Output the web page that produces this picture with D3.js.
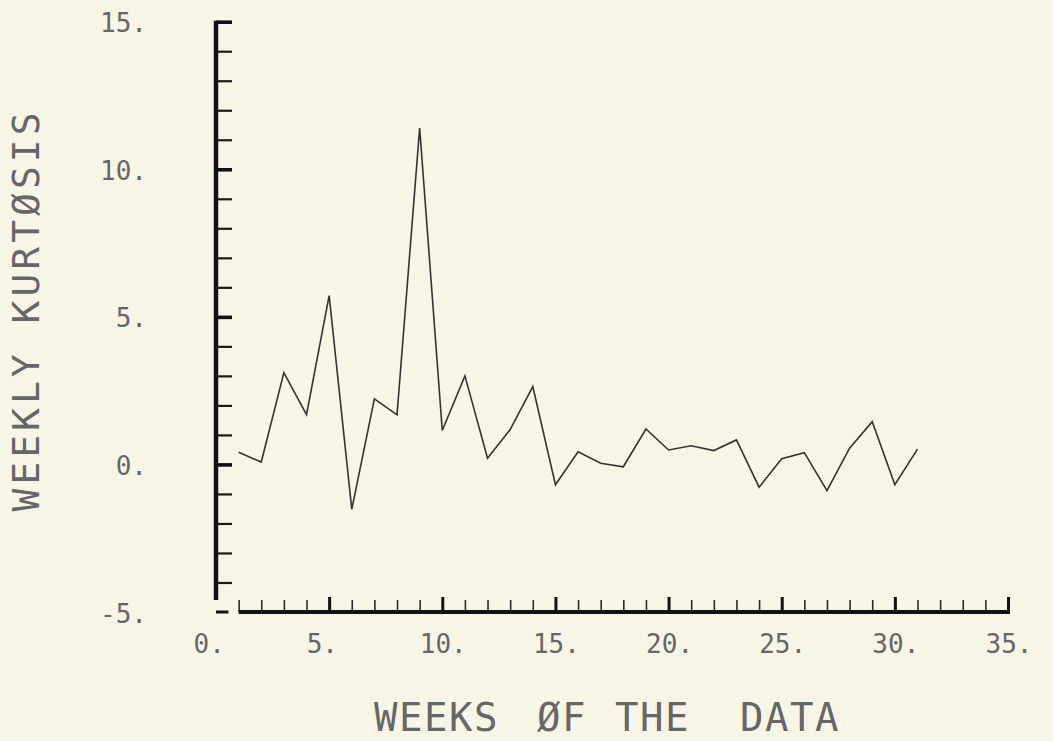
<!DOCTYPE html>
<html>
<head>
<meta charset="utf-8">
<script src="https://cdn.jsdelivr.net/npm/d3@7/dist/d3.min.js"></script>
<style>
  html, body { margin: 0; padding: 0; background: #f7f5e6; }
  svg { display: block; }
  text { font-family: "DejaVu Sans Mono", monospace; fill: #666; }
</style>
</head>
<body>
<svg id="chart" width="1053" height="741"></svg>
<script>
// ---- data ----
const weeks = [1,2,3,4,5,6,7,8,9,10,11,12,13,14,15,16,17,18,19,20,21,22,23,24,25,26,27,28,29,30,31];
const kurtosis = [0.41,0.08,3.11,1.69,5.72,-1.52,2.22,1.68,11.4,1.15,3.0,0.21,1.18,2.64,-0.69,0.43,0.04,-0.08,1.2,0.49,0.63,0.47,0.83,-0.77,0.19,0.40,-0.89,0.55,1.45,-0.69,0.52];
const xTickLabels = [0,5,10,15,20,25,30,35];
const yTickLabels = [-5,0,5,10,15];
const xMinorTicks = d3.range(1, 35);
const yMinorTicks = d3.range(-4, 15);
const xTitleWords = ["WEEKS", "ØF", "THE", "DATA"];
const yTitle = "WEEKLY KURTØSIS";

const svg = d3.select("#chart");
svg.append("rect").attr("width", 1053).attr("height", 741).attr("fill", "#f7f5e6");

const x = d3.scaleLinear().domain([0, 35]).range([216, 1008]);
const y = d3.scaleLinear().domain([-5, 15]).range([612, 21.7]);

// y axis ticks (pointing right)
const gyMinor = svg.append("g").attr("transform", `translate(${x(0)},0)`)
  .call(d3.axisRight(y).tickValues(yMinorTicks).tickSize(16).tickFormat(""));
gyMinor.select(".domain").remove();
gyMinor.selectAll("line").attr("stroke", "#1a1a1a").attr("stroke-width", 2.2);

const gyMajor = svg.append("g").attr("transform", `translate(${x(0)},0)`)
  .call(d3.axisRight(y).tickValues([0,5,10,15]).tickSize(16).tickFormat(""));
gyMajor.select(".domain").remove();
gyMajor.selectAll("line").attr("stroke", "#111").attr("stroke-width", 3.6);

// x axis ticks (pointing up)
const gxMinor = svg.append("g").attr("transform", `translate(0,${y(-5)})`)
  .call(d3.axisTop(x).tickValues(xMinorTicks).tickSize(12).tickFormat(""));
gxMinor.select(".domain").remove();
gxMinor.selectAll("line").attr("stroke", "#2a2a2a").attr("stroke-width", 1.6);

const gxMajor = svg.append("g").attr("transform", `translate(0,${y(-5)})`)
  .call(d3.axisTop(x).tickValues([5,10,15,20,25,30,35]).tickSize(15).tickFormat(""));
gxMajor.select(".domain").remove();
gxMajor.selectAll("line").attr("stroke", "#111").attr("stroke-width", 3);

// axis lines
svg.append("line").attr("x1", x(0)).attr("x2", x(0)).attr("y1", y(15) - 1).attr("y2", y(-5) - 12)
  .attr("stroke", "#111").attr("stroke-width", 4.5);
svg.append("line").attr("x1", x(1)).attr("x2", x(35) + 2).attr("y1", y(-5)).attr("y2", y(-5))
  .attr("stroke", "#111").attr("stroke-width", 4);
svg.append("line").attr("x1", x(0)).attr("x2", x(0.55)).attr("y1", y(-5)).attr("y2", y(-5))
  .attr("stroke", "#111").attr("stroke-width", 3);

// y tick labels
const gyLab = svg.append("g").attr("transform", `translate(${x(0)},0)`)
  .call(d3.axisLeft(y).tickValues(yTickLabels).tickSize(0).tickPadding(69).tickFormat(d => d + "."));
gyLab.select(".domain").remove();
gyLab.selectAll("text").attr("dy", 10).attr("font-size", 26)
  .attr("font-family", "DejaVu Sans Mono").attr("fill", "#666");

// x tick labels
const gxLab = svg.append("g").attr("transform", `translate(0,${y(-5)})`)
  .call(d3.axisBottom(x).tickValues(xTickLabels).tickSize(0).tickFormat(d => d + "."));
gxLab.select(".domain").remove();
gxLab.selectAll("text").attr("text-anchor", "start").attr("x", -23).attr("y", 41).attr("dy", 0)
  .attr("font-size", 26).attr("font-family", "DejaVu Sans Mono").attr("fill", "#666");

// data line
const line = d3.line().x((d, i) => x(weeks[i])).y(d => y(d));
svg.append("path").datum(kurtosis).attr("d", line)
  .attr("fill", "none").attr("stroke", "#333").attr("stroke-width", 1.6).attr("stroke-linejoin", "miter");

// x title (words placed as plotted)
const xTitleStarts = [374, 537, 615, 740];
svg.append("g").selectAll("text").data(xTitleWords).join("text")
  .attr("x", (d, i) => xTitleStarts[i]).attr("y", 731)
  .attr("font-size", 39).attr("letter-spacing", 1.5).text(d => d);

// y title
svg.append("text").attr("transform", "translate(39,310) rotate(-90)")
  .attr("text-anchor", "middle").attr("font-size", 38).attr("letter-spacing", 4)
  .text(yTitle);
</script>
</body>
</html>
